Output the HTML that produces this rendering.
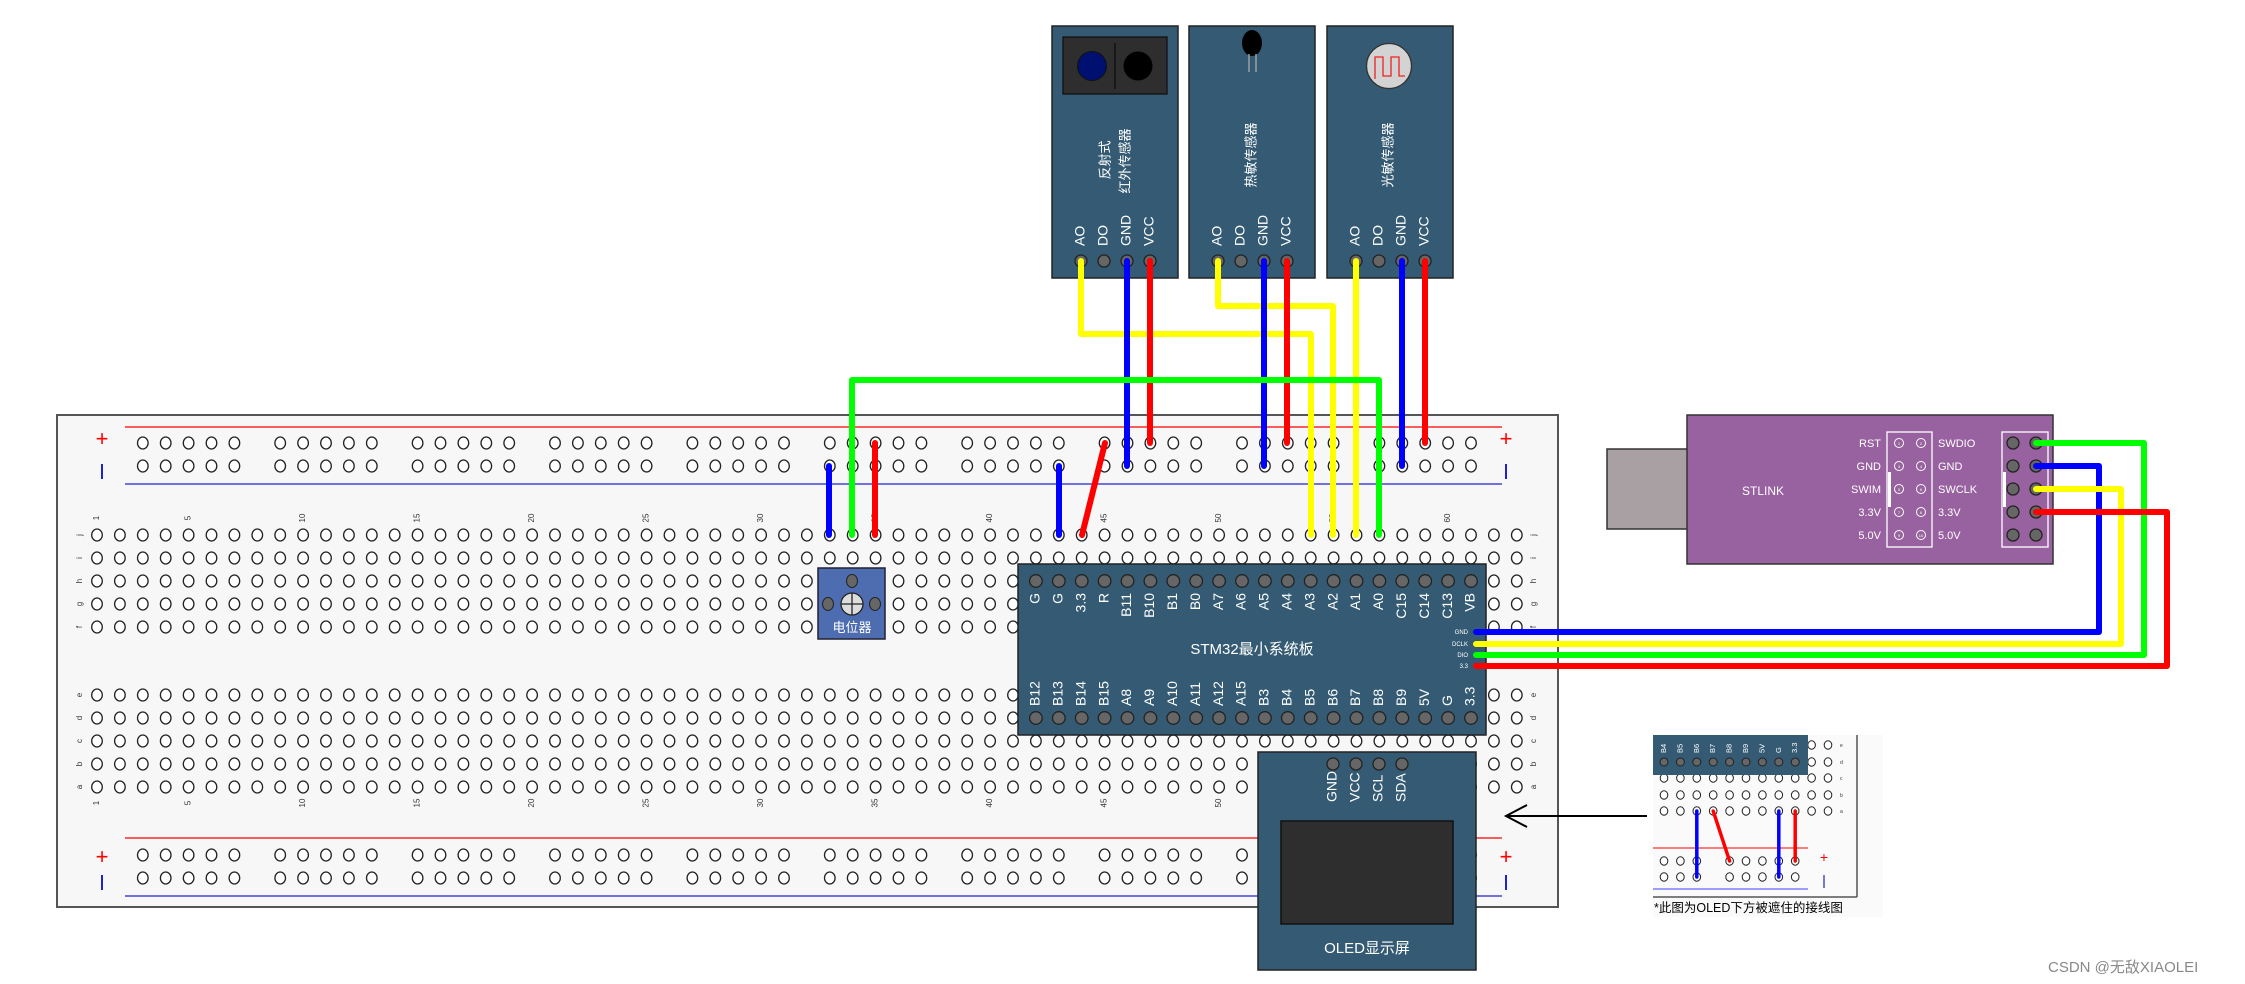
<!DOCTYPE html>
<html><head><meta charset="utf-8">
<style>
html,body{margin:0;padding:0;background:#fff;}
svg{display:block;}
text{font-family:"Liberation Sans","Noto Sans CJK SC",sans-serif;}
</style></head>
<body>
<svg id="s" xmlns="http://www.w3.org/2000/svg" width="2245" height="984" viewBox="0 0 2245 984">
<rect x="0" y="0" width="2245" height="984" fill="#fff"/>
<rect x="57" y="415" width="1501" height="492" fill="#f7f7f7" stroke="#555" stroke-width="2"/>
<line x1="125" y1="427" x2="1502" y2="427" stroke="#f00" stroke-width="1.3"/>
<line x1="125" y1="484" x2="1502" y2="484" stroke="#22c" stroke-width="1.3"/>
<line x1="125" y1="838" x2="1502" y2="838" stroke="#f00" stroke-width="1.3"/>
<line x1="125" y1="896" x2="1502" y2="896" stroke="#22c" stroke-width="1.3"/>
<g font-size="22" text-anchor="middle">
<text x="102" y="446" fill="#f00">+</text><text x="1506" y="446" fill="#f00">+</text>
<text x="102" y="864" fill="#f00">+</text><text x="1506" y="864" fill="#f00">+</text>
</g>
<g stroke="#22c" stroke-width="2">
<line x1="102" y1="464" x2="102" y2="479"/><line x1="1506" y1="464" x2="1506" y2="479"/>
<line x1="102" y1="875" x2="102" y2="890"/><line x1="1506" y1="875" x2="1506" y2="890"/>
</g>
<g id="holes"></g>
<g id="labels" font-size="8" fill="#333"></g>

<rect x="818" y="568" width="67" height="71" fill="#4d6db0" stroke="#223" stroke-width="1.5"/>
<ellipse cx="852" cy="581" rx="5.5" ry="6.5" fill="#666" stroke="#222"/>
<ellipse cx="828" cy="604" rx="5.5" ry="6.5" fill="#666" stroke="#222"/>
<ellipse cx="875" cy="604" rx="5.5" ry="6.5" fill="#666" stroke="#222"/>
<circle cx="852" cy="604" r="11" fill="#ddd" stroke="#222" stroke-width="1.3"/>
<line x1="841" y1="604" x2="863" y2="604" stroke="#222" stroke-width="1.3"/>
<line x1="852" y1="593" x2="852" y2="615" stroke="#222" stroke-width="1.3"/>
<text x="852" y="632" font-size="13" fill="#fff" text-anchor="middle">电位器</text>

<rect x="1018" y="564" width="468" height="171" fill="#345b73" stroke="#222" stroke-width="1.5"/>
<g id="stm"></g>
<text x="1252" y="654" font-size="15" fill="#fff" text-anchor="middle">STM32最小系统板</text>
<g font-size="6" fill="#fff" text-anchor="end">
<text x="1468" y="634">GND</text><text x="1468" y="646">DCLK</text><text x="1468" y="657">DIO</text><text x="1468" y="668">3.3</text>
</g>

<rect x="1258" y="752" width="218" height="218" fill="#345b73" stroke="#222" stroke-width="1.5"/>
<rect x="1281" y="821" width="172" height="103" fill="#2e2e2e" stroke="#111" stroke-width="1.5"/>
<g fill="#666" stroke="#222" stroke-width="1.3">
<circle cx="1333" cy="764" r="6"/><circle cx="1356" cy="764" r="6"/><circle cx="1379" cy="764" r="6"/><circle cx="1402" cy="764" r="6"/>
</g>
<g font-size="14" fill="#fff" dominant-baseline="middle">
<text transform="translate(1333,802) rotate(-90)">GND</text>
<text transform="translate(1356,802) rotate(-90)">VCC</text>
<text transform="translate(1379,802) rotate(-90)">SCL</text>
<text transform="translate(1402,802) rotate(-90)">SDA</text>
</g>
<text x="1367" y="953" font-size="15" fill="#fff" text-anchor="middle">OLED显示屏</text>

<g stroke="#222" stroke-width="1.5" fill="#345b73">
<rect x="1052" y="26" width="126" height="252"/>
<rect x="1189" y="26" width="126" height="252"/>
<rect x="1327" y="26" width="126" height="252"/>
</g>
<rect x="1063" y="37" width="104" height="57" fill="#2e2e2e" stroke="#111" stroke-width="1.3"/>
<line x1="1115" y1="43" x2="1115" y2="89" stroke="#111" stroke-width="1.5"/>
<circle cx="1092" cy="66" r="14.5" fill="#001070" stroke="#111"/>
<circle cx="1138" cy="66" r="14.5" fill="#000"/>
<ellipse cx="1252" cy="43" rx="10" ry="13" fill="#000"/>
<line x1="1249" y1="54" x2="1249" y2="72" stroke="#aaa" stroke-width="1.3"/>
<line x1="1256" y1="54" x2="1256" y2="72" stroke="#aaa" stroke-width="1.3"/>
<circle cx="1389" cy="66" r="22.5" fill="#d3d3d3" stroke="#333" stroke-width="1.3"/>
<polyline points="1375,79 1375,57 1383,57 1383,76 1391,76 1391,57 1399,57 1399,76 1405,76" fill="none" stroke="#e22" stroke-width="1.3"/>
<g font-size="13" fill="#fff" text-anchor="middle" dominant-baseline="middle">
<text transform="translate(1106,160) rotate(-90)">反射式</text>
<text transform="translate(1126,161) rotate(-90)">红外传感器</text>
<text transform="translate(1252,155) rotate(-90)">热敏传感器</text>
<text transform="translate(1389,155) rotate(-90)">光敏传感器</text>
</g>
<g id="spins"></g>

<rect x="1607" y="449" width="81" height="80" fill="#a8a0a3" stroke="#333" stroke-width="1.5"/>
<rect x="1687" y="415" width="366" height="149" fill="#98619f" stroke="#333" stroke-width="1.5"/>
<text x="1763" y="495" font-size="12" fill="#fff" text-anchor="middle">STLINK</text>
<rect x="1887" y="432" width="45" height="115" fill="none" stroke="#fff" stroke-width="1.3"/>
<rect x="1888" y="472" width="3" height="35" fill="#fff"/>
<rect x="2002" y="432" width="46" height="115" fill="none" stroke="#fff" stroke-width="1.3"/>
<rect x="2003" y="472" width="3" height="35" fill="#fff"/>
<g id="stl" font-size="11" fill="#fff"></g>

<g fill="none" stroke-width="6" stroke-linecap="round" stroke-linejoin="round">
<polyline points="1081,261 1081,334 1311,334 1311,535" stroke="#ff0"/>
<polyline points="1127,261 1127,466" stroke="#00f"/>
<polyline points="1150,261 1150,443" stroke="#f00"/>
<polyline points="1218,261 1218,306 1333,306 1333,535" stroke="#ff0"/>
<polyline points="1264,261 1264,466" stroke="#00f"/>
<polyline points="1287,261 1287,443" stroke="#f00"/>
<polyline points="1356,261 1356,535" stroke="#ff0"/>
<polyline points="1402,261 1402,466" stroke="#00f"/>
<polyline points="1425,261 1425,443" stroke="#f00"/>
<polyline points="852,535 852,380 1379,380 1379,535" stroke="#0f0"/>
<polyline points="829,535 829,466" stroke="#00f"/>
<polyline points="875,535 875,443" stroke="#f00"/>
<polyline points="1059,535 1059,466" stroke="#00f"/>
<polyline points="1082,535 1105,443" stroke="#f00"/>
<polyline points="1476,632 2099,632 2099,466 2036,466" stroke="#00f"/>
<polyline points="1476,644 2121,644 2121,489 2036,489" stroke="#ff0"/>
<polyline points="1476,655 2144,655 2144,443 2036,443" stroke="#0f0"/>
<polyline points="1476,666 2167,666 2167,512 2036,512" stroke="#f00"/>
</g>

<g stroke="#000" stroke-width="2" fill="none">
<line x1="1647" y1="816" x2="1507" y2="816"/>
<polyline points="1527,805 1506,816 1527,827"/>
</g>

<g id="inset"></g>
<text x="1654" y="912" font-size="12.5" fill="#000">*此图为OLED下方被遮住的接线图</text>

<text x="2048" y="972" font-size="15" fill="#888">CSDN @无敌XIAOLEI</text>
</svg>
<script>
(function(){
const NS="http://www.w3.org/2000/svg";
function el(p,t,a,txt){const e=document.createElementNS(NS,t);for(const k in a)e.setAttribute(k,a[k]);if(txt!==undefined)e.textContent=txt;p.appendChild(e);return e;}
const X=c=>97+(c-1)*22.9;
const H=document.getElementById('holes');
function hole(x,y){el(H,'ellipse',{cx:x,cy:y,rx:5.3,ry:6,fill:'#fff',stroke:'#222','stroke-width':1.3});}
const mainY=[535,558,581,604,627,695,718,741,764,787];
for(const y of mainY)for(let c=1;c<=63;c++)hole(X(c),y);
for(const y of [443,466,855,878])for(let g=0;g<10;g++)for(let k=0;k<5;k++)hole(X(3+g*6+k),y);
const L=document.getElementById('labels');
const nums=[1,5,10,15,20,25,30,35,40,45,50,55,60];
for(const n of nums){
 el(L,'text',{transform:`translate(${X(n)},518) rotate(-90)`,'text-anchor':'middle','dominant-baseline':'middle'},String(n));
 el(L,'text',{transform:`translate(${X(n)},803) rotate(-90)`,'text-anchor':'middle','dominant-baseline':'middle'},String(n));
}
const rl="jihgfedcba";
rl.split('').forEach((r,i)=>{
 el(L,'text',{transform:`translate(80,${mainY[i]}) rotate(-90)`,'text-anchor':'middle','dominant-baseline':'middle'},r);
 el(L,'text',{transform:`translate(1534,${mainY[i]}) rotate(-90)`,'text-anchor':'middle','dominant-baseline':'middle'},r);
});
const S=document.getElementById('stm');
const topL=["G","G","3.3","R","B11","B10","B1","B0","A7","A6","A5","A4","A3","A2","A1","A0","C15","C14","C13","VB"];
const botL=["B12","B13","B14","B15","A8","A9","A10","A11","A12","A15","B3","B4","B5","B6","B7","B8","B9","5V","G","3.3"];
for(let k=0;k<20;k++){const x=X(42+k);
 el(S,'circle',{cx:x,cy:581,r:6.3,fill:'#666',stroke:'#222','stroke-width':1.3});
 el(S,'circle',{cx:x,cy:718,r:6.3,fill:'#666',stroke:'#222','stroke-width':1.3});
 el(S,'text',{transform:`translate(${x},593) rotate(-90)`,'text-anchor':'end','dominant-baseline':'middle','font-size':14,fill:'#fff'},topL[k]);
 el(S,'text',{transform:`translate(${x},706) rotate(-90)`,'text-anchor':'start','dominant-baseline':'middle','font-size':14,fill:'#fff'},botL[k]);
}
const SP=document.getElementById('spins');
[[1081,1104,1127,1150],[1218,1241,1264,1287],[1356,1379,1402,1425]].forEach(xs=>{
 ["AO","DO","GND","VCC"].forEach((t,i)=>{
  el(SP,'circle',{cx:xs[i],cy:261,r:6,fill:'#666',stroke:'#222','stroke-width':1.3});
  el(SP,'text',{transform:`translate(${xs[i]},246) rotate(-90)`,'text-anchor':'start','dominant-baseline':'middle','font-size':14,fill:'#fff'},t);
 });
});
const T=document.getElementById('stl');
const ys=[443,466,489,512,535];
const ll=["RST","GND","SWIM","3.3V","5.0V"],rr=["SWDIO","GND","SWCLK","3.3V","5.0V"];
ys.forEach((y,i)=>{
 el(T,'text',{x:1881,y:y+4,'text-anchor':'end'},ll[i]);
 el(T,'text',{x:1938,y:y+4},rr[i]);
 el(T,'circle',{cx:1899,cy:y,r:4.5,fill:'none',stroke:'#fff','stroke-width':1});
 el(T,'circle',{cx:1921,cy:y,r:4.5,fill:'none',stroke:'#fff','stroke-width':1});
 el(T,'text',{x:1899,y:y+2,'font-size':4,'text-anchor':'middle'},String(2*i+1));
 el(T,'text',{x:1921,y:y+2,'font-size':4,'text-anchor':'middle'},String(2*i+2));
 el(T,'circle',{cx:2013,cy:y,r:6,fill:'#666',stroke:'#222','stroke-width':1.3});
 el(T,'circle',{cx:2036,cy:y,r:6,fill:'#666',stroke:'#222','stroke-width':1.3});
});
const I=document.getElementById('inset');
el(I,'rect',{x:1653,y:735,width:230,height:182,fill:'#fafafa'});
el(I,'line',{x1:1857,y1:735,x2:1857,y2:897,stroke:'#555','stroke-width':1.5});
el(I,'line',{x1:1653,y1:897,x2:1857,y2:897,stroke:'#555','stroke-width':1.5});
const IX=k=>1664+k*16.4;
const iy=[745,762,778,795,811];
for(const y of iy)for(let k=0;k<11;k++)el(I,'ellipse',{cx:IX(k),cy:y,rx:3.8,ry:4.2,fill:'#fff',stroke:'#222','stroke-width':1});
"edcba".split('').forEach((r,i)=>el(I,'text',{x:1840,y:iy[i]+2,'font-size':5,fill:'#333'},r));
el(I,'line',{x1:1653,y1:848,x2:1808,y2:848,stroke:'#f00','stroke-width':1});
el(I,'line',{x1:1653,y1:889,x2:1808,y2:889,stroke:'#66f','stroke-width':1.3});
for(const y of [861,877])for(const k of [0,1,2,4,5,6,7,8])el(I,'ellipse',{cx:IX(k),cy:y,rx:3.8,ry:4.2,fill:'#fff',stroke:'#222','stroke-width':1});
el(I,'text',{x:1824,y:862,'font-size':14,fill:'#f00','text-anchor':'middle'},'+');
el(I,'line',{x1:1824,y1:875,x2:1824,y2:888,stroke:'#33c','stroke-width':1.3});
el(I,'rect',{x:1653,y:735,width:155,height:40,fill:'#345b73'});
const il=["B4","B5","B6","B7","B8","B9","5V","G","3.3"];
il.forEach((t,k)=>{
 el(I,'circle',{cx:IX(k),cy:762,r:4,fill:'#666',stroke:'#222','stroke-width':1});
 el(I,'text',{transform:`translate(${IX(k)},753) rotate(-90)`,'text-anchor':'start','dominant-baseline':'middle','font-size':7.5,fill:'#fff'},t);
});
const W=(pts,c)=>el(I,'polyline',{points:pts,fill:'none',stroke:c,'stroke-width':3.5,'stroke-linecap':'round'});
W(`${IX(2)},811 ${IX(2)},877`,'#00f');
W(`${IX(3)},811 ${IX(4)},861`,'#f00');
W(`${IX(7)},811 ${IX(7)},877`,'#00f');
W(`${IX(8)},811 ${IX(8)},861`,'#f00');
})();
</script>
</body></html>
